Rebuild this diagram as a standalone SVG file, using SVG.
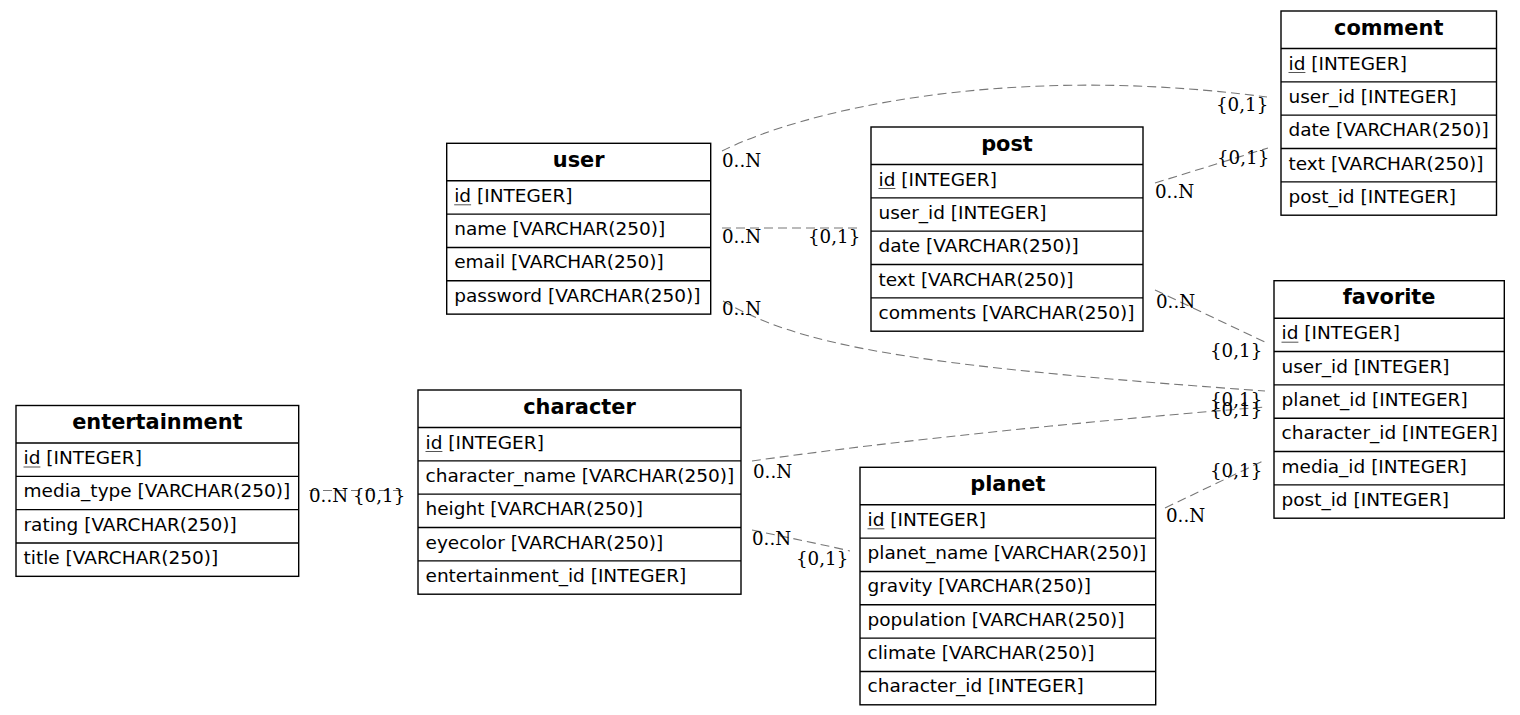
<svg xmlns="http://www.w3.org/2000/svg" width="1520" height="715" viewBox="0 0 1520 715">
  <style>
    .box { fill: #ffffff; stroke: #000000; stroke-width: 1.4; }
    .sep { stroke: #000000; stroke-width: 1.4; }
    .hd { font-family: "DejaVu Sans", sans-serif; font-weight: bold; font-size: 20.9px; text-anchor: middle; fill: #000; }
    .fd { font-family: "DejaVu Sans", sans-serif; font-size: 18.5px; fill: #000; }
    .pk { stroke: #555555; stroke-width: 1; }
    .edge { fill: none; stroke: #777777; stroke-width: 1.1; stroke-dasharray: 9,5; }
    .lbl { font-family: "DejaVu Serif", serif; font-size: 18.25px; fill: #000; }
  </style>

  <!-- relationship lines and cardinality labels -->
  <g id="connectors">
    <path class="edge" d="M722,151 C800,112 1000,62 1267,97"/>
    <text class="lbl" x="722" y="167">0..N</text>
    <text class="lbl" x="1216" y="111">{0,1}</text>

    <path class="edge" d="M722,228 L859,228"/>
    <text class="lbl" x="722" y="243">0..N</text>
    <text class="lbl" x="808" y="243">{0,1}</text>

    <path class="edge" d="M723,301 C800,345 900,365 1265,391"/>
    <text class="lbl" x="722" y="315">0..N</text>
    <text class="lbl" x="1210" y="406">{0,1}</text>

    <path class="edge" d="M1155,183 L1268,148"/>
    <text class="lbl" x="1155" y="198">0..N</text>
    <text class="lbl" x="1217" y="164">{0,1}</text>

    <path class="edge" d="M1155,290 L1267,343"/>
    <text class="lbl" x="1156" y="308">0..N</text>
    <text class="lbl" x="1210" y="357">{0,1}</text>

    <path class="edge" d="M752,461 C900,440 1100,420 1265,407"/>
    <text class="lbl" x="753" y="478">0..N</text>
    <text class="lbl" x="1210" y="416">{0,1}</text>

    <path class="edge" d="M752,530 C790,538 820,544 850,551"/>
    <text class="lbl" x="752" y="545">0..N</text>
    <text class="lbl" x="796" y="565">{0,1}</text>

    <path class="edge" d="M1165,508 L1265,460"/>
    <text class="lbl" x="1166" y="522">0..N</text>
    <text class="lbl" x="1210" y="477">{0,1}</text>

    <path class="edge" d="M309,490.5 L407,490.5"/>
    <text class="lbl" x="309" y="502">0..N</text>
    <text class="lbl" x="353" y="502">{0,1}</text>
  </g>

  <!-- comment -->
  <g id="comment" transform="translate(1281,11)">
    <rect class="box" x="0" y="0" width="215.5" height="204.2"/>
    <line class="sep" x1="0" y1="37.5" x2="215.5" y2="37.5"/>
    <line class="sep" x1="0" y1="70.83" x2="215.5" y2="70.83"/>
    <line class="sep" x1="0" y1="104.17" x2="215.5" y2="104.17"/>
    <line class="sep" x1="0" y1="137.5" x2="215.5" y2="137.5"/>
    <line class="sep" x1="0" y1="170.83" x2="215.5" y2="170.83"/>
    <text class="hd" x="107.75" y="23.5">comment</text>
    <text class="fd" x="7.5" y="58.5">id [INTEGER]</text>
    <line class="pk" x1="7.5" y1="61.5" x2="24.4" y2="61.5"/>
    <text class="fd" x="7.5" y="91.83">user_id [INTEGER]</text>
    <text class="fd" x="7.5" y="125.17">date [VARCHAR(250)]</text>
    <text class="fd" x="7.5" y="158.5">text [VARCHAR(250)]</text>
    <text class="fd" x="7.5" y="191.83">post_id [INTEGER]</text>
  </g>

  <!-- post -->
  <g id="post" transform="translate(871,127)">
    <rect class="box" x="0" y="0" width="272" height="204.2"/>
    <line class="sep" x1="0" y1="37.5" x2="272" y2="37.5"/>
    <line class="sep" x1="0" y1="70.83" x2="272" y2="70.83"/>
    <line class="sep" x1="0" y1="104.17" x2="272" y2="104.17"/>
    <line class="sep" x1="0" y1="137.5" x2="272" y2="137.5"/>
    <line class="sep" x1="0" y1="170.83" x2="272" y2="170.83"/>
    <text class="hd" x="136" y="23.5">post</text>
    <text class="fd" x="7.5" y="58.5">id [INTEGER]</text>
    <line class="pk" x1="7.5" y1="61.5" x2="24.4" y2="61.5"/>
    <text class="fd" x="7.5" y="91.83">user_id [INTEGER]</text>
    <text class="fd" x="7.5" y="125.17">date [VARCHAR(250)]</text>
    <text class="fd" x="7.5" y="158.5">text [VARCHAR(250)]</text>
    <text class="fd" x="7.5" y="191.83">comments [VARCHAR(250)]</text>
  </g>

  <!-- user -->
  <g id="user" transform="translate(446.7,143.3)">
    <rect class="box" x="0" y="0" width="264" height="170.83"/>
    <line class="sep" x1="0" y1="37.5" x2="264" y2="37.5"/>
    <line class="sep" x1="0" y1="70.83" x2="264" y2="70.83"/>
    <line class="sep" x1="0" y1="104.17" x2="264" y2="104.17"/>
    <line class="sep" x1="0" y1="137.5" x2="264" y2="137.5"/>
    <text class="hd" x="132" y="23.5">user</text>
    <text class="fd" x="7.5" y="58.5">id [INTEGER]</text>
    <line class="pk" x1="7.5" y1="61.5" x2="24.4" y2="61.5"/>
    <text class="fd" x="7.5" y="91.83">name [VARCHAR(250)]</text>
    <text class="fd" x="7.5" y="125.17">email [VARCHAR(250)]</text>
    <text class="fd" x="7.5" y="158.5">password [VARCHAR(250)]</text>
  </g>

  <!-- favorite -->
  <g id="favorite" transform="translate(1274,280.7)">
    <rect class="box" x="0" y="0" width="230.3" height="237.5"/>
    <line class="sep" x1="0" y1="37.5" x2="230.3" y2="37.5"/>
    <line class="sep" x1="0" y1="70.83" x2="230.3" y2="70.83"/>
    <line class="sep" x1="0" y1="104.17" x2="230.3" y2="104.17"/>
    <line class="sep" x1="0" y1="137.5" x2="230.3" y2="137.5"/>
    <line class="sep" x1="0" y1="170.83" x2="230.3" y2="170.83"/>
    <line class="sep" x1="0" y1="204.17" x2="230.3" y2="204.17"/>
    <text class="hd" x="115.15" y="23.5">favorite</text>
    <text class="fd" x="7.5" y="58.5">id [INTEGER]</text>
    <line class="pk" x1="7.5" y1="61.5" x2="24.4" y2="61.5"/>
    <text class="fd" x="7.5" y="91.83">user_id [INTEGER]</text>
    <text class="fd" x="7.5" y="125.17">planet_id [INTEGER]</text>
    <text class="fd" x="7.5" y="158.5">character_id [INTEGER]</text>
    <text class="fd" x="7.5" y="191.83">media_id [INTEGER]</text>
    <text class="fd" x="7.5" y="225.17">post_id [INTEGER]</text>
  </g>

  <!-- entertainment -->
  <g id="entertainment" transform="translate(16,405.5)">
    <rect class="box" x="0" y="0" width="282.7" height="170.83"/>
    <line class="sep" x1="0" y1="37.5" x2="282.7" y2="37.5"/>
    <line class="sep" x1="0" y1="70.83" x2="282.7" y2="70.83"/>
    <line class="sep" x1="0" y1="104.17" x2="282.7" y2="104.17"/>
    <line class="sep" x1="0" y1="137.5" x2="282.7" y2="137.5"/>
    <text class="hd" x="141.35" y="23.5">entertainment</text>
    <text class="fd" x="7.5" y="58.5">id [INTEGER]</text>
    <line class="pk" x1="7.5" y1="61.5" x2="24.4" y2="61.5"/>
    <text class="fd" x="7.5" y="91.83">media_type [VARCHAR(250)]</text>
    <text class="fd" x="7.5" y="125.17">rating [VARCHAR(250)]</text>
    <text class="fd" x="7.5" y="158.5">title [VARCHAR(250)]</text>
  </g>

  <!-- character -->
  <g id="character" transform="translate(418,390)">
    <rect class="box" x="0" y="0" width="323" height="204.2"/>
    <line class="sep" x1="0" y1="37.5" x2="323" y2="37.5"/>
    <line class="sep" x1="0" y1="70.83" x2="323" y2="70.83"/>
    <line class="sep" x1="0" y1="104.17" x2="323" y2="104.17"/>
    <line class="sep" x1="0" y1="137.5" x2="323" y2="137.5"/>
    <line class="sep" x1="0" y1="170.83" x2="323" y2="170.83"/>
    <text class="hd" x="161.5" y="23.5">character</text>
    <text class="fd" x="7.5" y="58.5">id [INTEGER]</text>
    <line class="pk" x1="7.5" y1="61.5" x2="24.4" y2="61.5"/>
    <text class="fd" x="7.5" y="91.83">character_name [VARCHAR(250)]</text>
    <text class="fd" x="7.5" y="125.17">height [VARCHAR(250)]</text>
    <text class="fd" x="7.5" y="158.5">eyecolor [VARCHAR(250)]</text>
    <text class="fd" x="7.5" y="191.83">entertainment_id [INTEGER]</text>
  </g>

  <!-- planet -->
  <g id="planet" transform="translate(860,467.3)">
    <rect class="box" x="0" y="0" width="295.7" height="237.5"/>
    <line class="sep" x1="0" y1="37.5" x2="295.7" y2="37.5"/>
    <line class="sep" x1="0" y1="70.83" x2="295.7" y2="70.83"/>
    <line class="sep" x1="0" y1="104.17" x2="295.7" y2="104.17"/>
    <line class="sep" x1="0" y1="137.5" x2="295.7" y2="137.5"/>
    <line class="sep" x1="0" y1="170.83" x2="295.7" y2="170.83"/>
    <line class="sep" x1="0" y1="204.17" x2="295.7" y2="204.17"/>
    <text class="hd" x="147.85" y="23.5">planet</text>
    <text class="fd" x="7.5" y="58.5">id [INTEGER]</text>
    <line class="pk" x1="7.5" y1="61.5" x2="24.4" y2="61.5"/>
    <text class="fd" x="7.5" y="91.83">planet_name [VARCHAR(250)]</text>
    <text class="fd" x="7.5" y="125.17">gravity [VARCHAR(250)]</text>
    <text class="fd" x="7.5" y="158.5">population [VARCHAR(250)]</text>
    <text class="fd" x="7.5" y="191.83">climate [VARCHAR(250)]</text>
    <text class="fd" x="7.5" y="225.17">character_id [INTEGER]</text>
  </g>
</svg>
